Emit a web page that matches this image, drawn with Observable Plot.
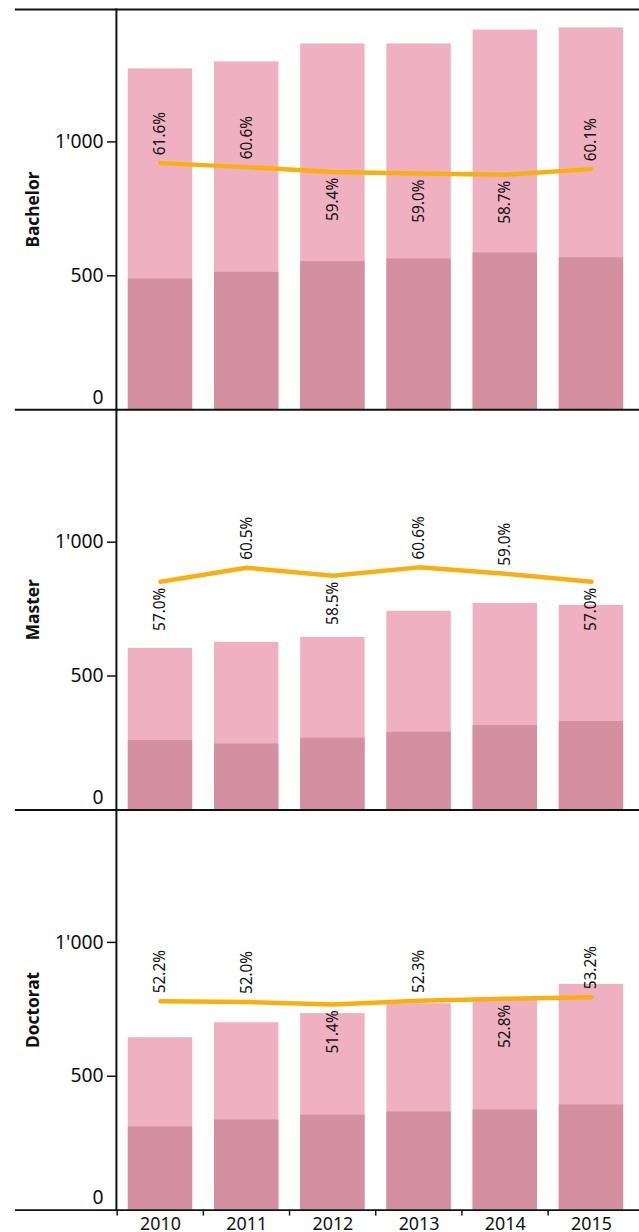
<!DOCTYPE html>
<html>
<head>
<meta charset="utf-8">
<script src="https://cdn.jsdelivr.net/npm/d3@7"></script>
<script src="https://cdn.jsdelivr.net/npm/@observablehq/plot@0.6"></script>
<style>
  html, body { margin: 0; padding: 0; overflow: hidden; background: #fff; }
  #chart svg { display: block; }
</style>
</head>
<body>
<div id="chart"></div>
<script>
// ---- data ----
const years = [2010, 2011, 2012, 2013, 2014, 2015];
const levels = ["Bachelor", "Master", "Doctorat"];

const bachelorTotal = [1273, 1299, 1366, 1366, 1418, 1426];
const bachelorDark  = [488, 513, 553, 563, 585, 567];
const bachelorPct   = [61.6, 60.6, 59.4, 59.0, 58.7, 60.1];

const masterTotal = [603, 626, 644, 742, 771, 764];
const masterDark  = [259, 246, 268, 290, 315, 330];
const masterPct   = [57.0, 60.5, 58.5, 60.6, 59.0, 57.0];

const doctoratTotal = [644, 700, 734, 771, 785, 843];
const doctoratDark  = [311, 337, 355, 367, 374, 393];
const doctoratPct   = [52.2, 52.0, 51.4, 52.3, 52.8, 53.2];

// label placement relative to the line (annotation layout)
const bachelorSide = ["above", "above", "below", "below", "below", "above"];
const masterSide   = ["below", "above", "below", "above", "above", "below"];
const doctoratSide = ["above", "above", "below", "above", "below", "above"];

// ---- build table ----
const series = {
  Bachelor: [bachelorTotal, bachelorDark, bachelorPct, bachelorSide],
  Master: [masterTotal, masterDark, masterPct, masterSide],
  Doctorat: [doctoratTotal, doctoratDark, doctoratPct, doctoratSide]
};
const rows = [];
for (const lvl of levels) {
  const [tot, dark, pct, side] = series[lvl];
  years.forEach((yr, i) => rows.push({level: lvl, year: yr, total: tot[i], dark: dark[i], pct: pct[i], side: side[i]}));
}

const yMax = 1495;
const pctToY = d => d.pct / 100 * yMax;
const fmt = d3.formatLocale({thousands: "'", grouping: [3], decimal: ".", currency: ["", ""]}).format(",");

const width = 645, marginLeft = 117, marginRight = 3;
const padInner = 0.25, padOuter = 0.125;
const step = (width - marginLeft - marginRight) / (years.length - padInner + 2 * padOuter);

const light = "#EFB1C1";
const darkC = "#D490A1";
const orange = "#F9B00F";
const ink = "#111";

const chart = Plot.plot({
  width,
  height: 1257,
  marginLeft,
  marginRight,
  marginTop: 9,
  marginBottom: 36,
  facet: {marginTop: 0, marginBottom: 0, marginLeft: 0, marginRight: 0},
  style: {fontFamily: "'Noto Sans', sans-serif", background: "#fff", color: ink},
  x: {domain: years, paddingInner: padInner, paddingOuter: padOuter, axis: null, label: null},
  y: {domain: [0, yMax], axis: null, label: null},
  fy: {domain: levels, padding: 0, axis: null, label: null},
  marks: [
    Plot.barY(rows, {x: "year", y: "total", fy: "level", fill: light}),
    Plot.barY(rows, {x: "year", y: "dark", fy: "level", fill: darkC}),
    // facet baselines and top rule
    Plot.ruleY(levels.map(l => ({level: l, v: 0})), {y: "v", fy: "level", stroke: ink, strokeWidth: 2, insetLeft: -102, insetRight: -10}),
    Plot.ruleY([{level: "Bachelor", v: yMax}], {y: "v", fy: "level", stroke: ink, strokeWidth: 2, insetLeft: -102, insetRight: -10}),
    // y axis
    Plot.axisY({ticks: [500, 1000], tickFormat: fmt, tickSize: 9, tickPadding: 4, fontSize: 19.5, strokeWidth: 1.5, stroke: ink, label: null}),
    Plot.text(levels.map(l => ({level: l, v: 0})), {y: "v", fy: "level", text: d => fmt(d.v), frameAnchor: "left", textAnchor: "end", dx: -13, dy: -12, fontSize: 19.5, fill: ink}),
    Plot.frame({anchor: "left", stroke: ink, strokeWidth: 2}),
    // facet labels
    Plot.text(levels, {fy: d => d, text: d => d, frameAnchor: "left", textAnchor: "middle", rotate: -90, dx: -84, fontWeight: "bold", fontSize: 17.5, fill: ink}),
    // percentage line
    Plot.line(rows, {x: "year", y: pctToY, fy: "level", stroke: orange, strokeWidth: 4.5, strokeLinecap: "round"}),
    Plot.text(rows.filter(d => d.side === "above"), {x: "year", y: pctToY, fy: "level", text: d => d.pct.toFixed(1) + "%", rotate: -90, textAnchor: "start", dy: -8, fontSize: 15.5, fill: ink}),
    Plot.text(rows.filter(d => d.side === "below"), {x: "year", y: pctToY, fy: "level", text: d => d.pct.toFixed(1) + "%", rotate: -90, textAnchor: "end", dy: 6, fontSize: 15.5, fill: ink}),
    // x axis: labels at centers, ticks at band boundaries
    Plot.axisX({tickSize: 0, tickPadding: 7, fontSize: 18, tickFormat: d => String(d), fill: ink, label: null}),
    Plot.axisX({tickSize: 6, tickFormat: () => "", dx: -step / 2, stroke: ink, strokeWidth: 1.5, label: null})
  ]
});
document.getElementById("chart").appendChild(chart);
</script>
</body>
</html>
